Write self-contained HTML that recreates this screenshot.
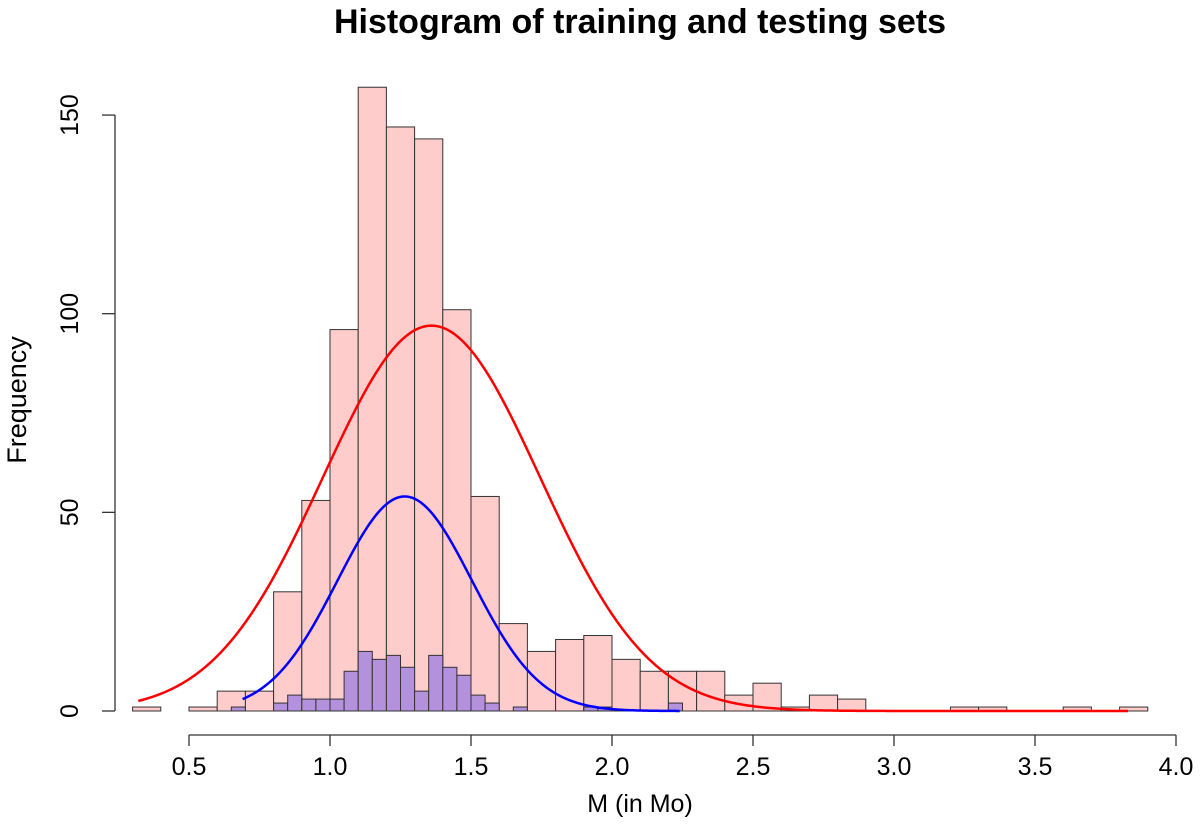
<!DOCTYPE html>
<html><head><meta charset="utf-8"><style>
html,body{margin:0;padding:0;background:#fff;}
svg{display:block;font-family:"Liberation Sans",Arial,sans-serif;}
</style></head><body>
<svg id="chart" width="1200" height="827" viewBox="0 0 1200 827">
<text x="640" y="33" text-anchor="middle" font-size="34" font-weight="bold">Histogram of training and testing sets</text>
<g id="bars-train"></g>
<g id="bars-test"></g>
<g id="curves"></g>
<g id="xaxis"></g>
<g id="yaxis"></g>
<text x="640" y="812" text-anchor="middle" font-size="25">M (in Mo)</text>
<text transform="translate(26,400) rotate(-90)" text-anchor="middle" font-size="27">Frequency</text>
</svg>
<script>
const trainStart = 0.3, trainWidth = 0.1;
const trainCounts = [1,0,1,5,5,30,53,96,157,147,144,101,54,22,15,18,19,13,10,10,10,4,7,1,4,3,0,0,0,1,1,0,0,1,0,1];
const testStart = 0.65, testWidth = 0.05;
const testCounts = [1,0,0,2,4,3,3,3,10,15,13,14,11,5,14,11,9,4,2,0,1,0,0,0,0,1,1,0,0,0,0,2];
const redCurve = {mean:1.36, sd:0.385, peak:97, from:0.32, to:3.83};
const blueCurve = {mean:1.265, sd:0.239, peak:54, from:0.69, to:2.24};
const xTicks = [0.5,1.0,1.5,2.0,2.5,3.0,3.5,4.0];
const xTickLabels = ["0.5","1.0","1.5","2.0","2.5","3.0","3.5","4.0"];
const yTicks = [0,50,100,150];
const yTickLabels = ["0","50","100","150"];

const NS = "http://www.w3.org/2000/svg";
const X = v => 189 + (v - 0.5) * 282;
const Y = v => 711 - v * 3.973;
function mk(tag, attrs, parent){const e=document.createElementNS(NS,tag);for(const k in attrs)e.setAttribute(k,attrs[k]);parent.appendChild(e);return e;}

const gT = document.getElementById('bars-train');
trainCounts.forEach((c,i)=>{
  if(c<=0) return;
  const x0=X(trainStart+i*trainWidth), x1=X(trainStart+(i+1)*trainWidth);
  const r=mk('rect',{x:x0,y:Y(c),width:x1-x0,height:Y(0)-Y(c),fill:'#ffcccc',stroke:'#333','stroke-width':1},gT);
  
  
});
const gS = document.getElementById('bars-test');
testCounts.forEach((c,i)=>{
  if(c<=0) return;
  const x0=X(testStart+i*testWidth), x1=X(testStart+(i+1)*testWidth);
  const r=mk('rect',{x:x0,y:Y(c),width:x1-x0,height:Y(0)-Y(c),fill:'#b391dc',stroke:'#333','stroke-width':1},gS);
  
  
});
const gC = document.getElementById('curves');
[[redCurve,'#ff0000','training-density-curve'],[blueCurve,'#0000ff','testing-density-curve']].forEach(([c,col,name])=>{
  let d='';
  for(let k=0;k<=300;k++){
    const v=c.from+(c.to-c.from)*k/300;
    const f=c.peak*Math.exp(-Math.pow(v-c.mean,2)/(2*c.sd*c.sd));
    d+=(k?'L':'M')+X(v).toFixed(2)+' '+Y(f).toFixed(2);
  }
  const p=mk('path',{d:d,fill:'none',stroke:col,'stroke-width':2.5},gC);
  
  
});
const gx=document.getElementById('xaxis');
mk('line',{x1:X(xTicks[0]),x2:X(xTicks[xTicks.length-1]),y1:735,y2:735,stroke:'#333','stroke-width':1.3},gx);
xTicks.forEach((t,i)=>{
  mk('line',{x1:X(t),x2:X(t),y1:735,y2:746,stroke:'#333','stroke-width':1.3},gx);
  const tx=mk('text',{x:X(t),y:775,'text-anchor':'middle','font-size':25},gx);
  tx.textContent=xTickLabels[i];
  
  
});
const gy=document.getElementById('yaxis');
mk('line',{x1:115,x2:115,y1:Y(yTicks[0]),y2:Y(yTicks[yTicks.length-1]),stroke:'#333','stroke-width':1.3},gy);
yTicks.forEach((t,i)=>{
  mk('line',{x1:102,x2:115,y1:Y(t),y2:Y(t),stroke:'#333','stroke-width':1.3},gy);
  const tx=mk('text',{transform:`translate(78,${Y(t)}) rotate(-90)`,'text-anchor':'middle','font-size':25},gy);
  tx.textContent=yTickLabels[i];
  
  
});
</script>
</body></html>
